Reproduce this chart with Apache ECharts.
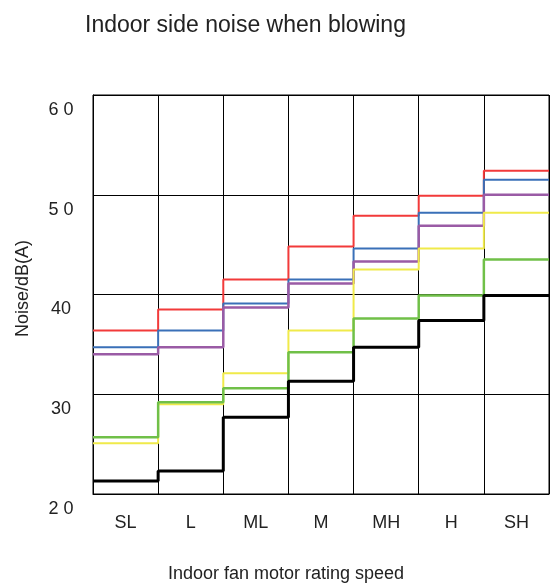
<!DOCTYPE html>
<html>
<head>
<meta charset="utf-8">
<script src="https://cdn.jsdelivr.net/npm/echarts@6/dist/echarts.min.js"></script>
<style>
  html, body { margin: 0; padding: 0; background: #fff; }
  #chart { width: 550px; height: 583px; }
</style>
</head>
<body>
<div id="chart"></div>
<script>
// fan speed categories
var speeds = ['SL', 'L', 'ML', 'M', 'MH', 'H', 'SH'];
// y tick labels as printed
var yTickText = {60: '6 0', 50: '5 0', 40: '40', 30: '30', 20: '2 0'};

// noise values per speed, dB(A)
var redVals    = [36.4, 38.5, 41.5, 44.8, 47.9, 49.9, 52.4];
var blueVals   = [34.7, 36.4, 39.1, 41.5, 44.6, 48.2, 51.5];
var purpleVals = [34.0, 34.7, 38.7, 41.1, 43.3, 46.9, 50.0];
var yellowVals = [25.1, 29.0, 32.1, 36.4, 42.5, 44.6, 48.2];
var greenVals  = [25.7, 29.2, 30.6, 34.2, 37.6, 39.9, 43.5];
var blackVals  = [21.3, 22.3, 27.7, 31.3, 34.7, 37.4, 39.9];

// each value covers its whole column: point at column start, last value held to the end
function stepData(vals) {
  var d = vals.map(function (v, i) { return [i, v]; });
  d.push([vals.length, vals[vals.length - 1]]);
  return d;
}

function stepSeries(name, vals, color, width) {
  return {
    name: name,
    type: 'line',
    xAxisIndex: 1,
    step: 'end',
    symbol: 'none',
    silent: true,
    lineStyle: {color: color, width: width},
    data: stepData(vals)
  };
}

var chart = echarts.init(document.getElementById('chart'));
chart.setOption({
  animation: false,
  title: {
    text: 'Indoor side noise when blowing',
    left: 80,
    top: 9,
    textStyle: {fontFamily: 'Liberation Sans', fontSize: 23, fontWeight: 'normal', color: '#222'}
  },
  grid: {
    left: 93, right: 1, top: 95, bottom: 89,
    containLabel: false,
    outerBoundsMode: 'none',
    show: true, borderColor: '#000', borderWidth: 1
  },
  xAxis: [
    {
      type: 'category',
      data: speeds,
      boundaryGap: true,
      name: 'Indoor fan motor rating speed',
      nameLocation: 'middle',
      nameGap: 71,
      nameTextStyle: {fontFamily: 'Liberation Sans', fontSize: 18, color: '#222', padding: [0, 70, 0, 0]},
      axisLine: {lineStyle: {color: '#000'}},
      axisTick: {show: false},
      axisLabel: {fontFamily: 'Liberation Sans', fontSize: 18, color: '#222', margin: 20},
      splitLine: {show: true, lineStyle: {color: '#000', width: 1}}
    },
    {
      type: 'value',
      min: 0,
      max: speeds.length,
      show: false
    }
  ],
  yAxis: {
    type: 'value',
    min: 20,
    max: 60,
    interval: 10,
    name: 'Noise/dB(A)',
    nameLocation: 'middle',
    nameGap: 61,
    nameTextStyle: {fontFamily: 'Liberation Sans', fontSize: 18, color: '#222', padding: [0, 0, 0, 12]},
    axisLine: {show: true, lineStyle: {color: '#000'}},
    axisTick: {show: false},
    axisLabel: {
      fontFamily: 'Liberation Sans', fontSize: 18, color: '#222',
      margin: 32, align: 'center', verticalAlign: 'top', padding: [6, 0, 0, 0],
      formatter: function (v) { return yTickText[v]; }
    },
    splitLine: {show: true, lineStyle: {color: '#000', width: 1}}
  },
  series: [
    stepSeries('red', redVals, '#f23a3a', 2),
    stepSeries('blue', blueVals, '#3a70b8', 2),
    stepSeries('purple', purpleVals, '#9a5ba5', 2.5),
    stepSeries('yellow', yellowVals, '#f0ea4a', 2),
    stepSeries('green', greenVals, '#70c048', 2.5),
    stepSeries('black', blackVals, '#000000', 3)
  ]
});
</script>
</body>
</html>
